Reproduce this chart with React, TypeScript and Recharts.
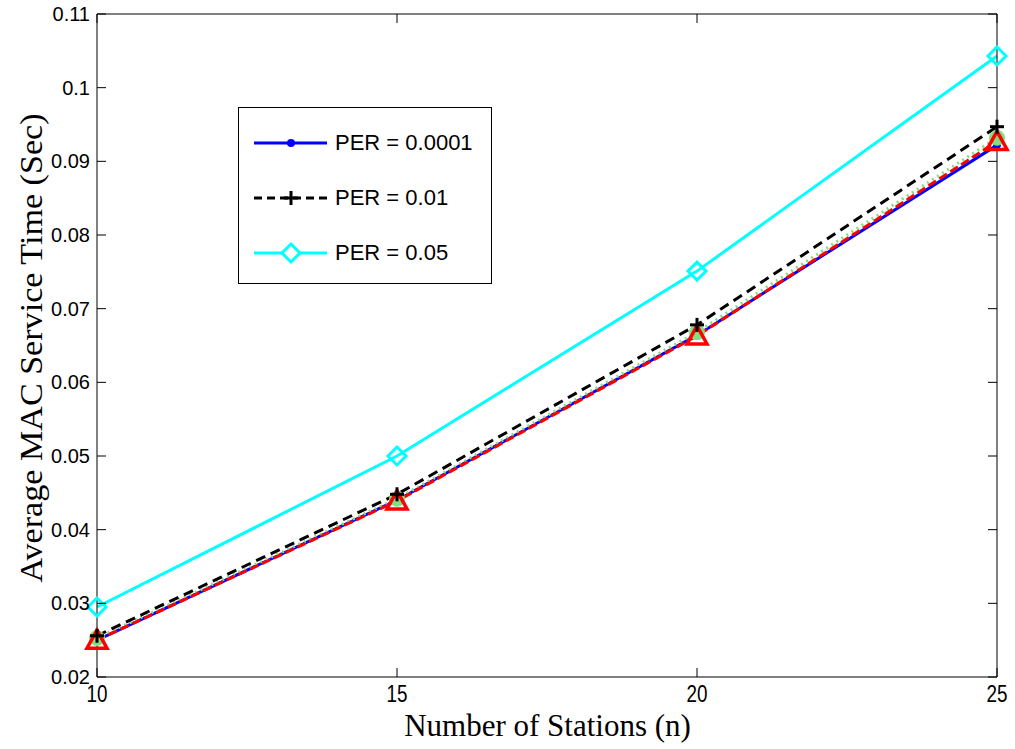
import { Line, LineChart, XAxis, YAxis } from "recharts";

const stations = [10, 15, 20, 25];
const per0001 = [0.025, 0.044, 0.0664, 0.0922];
const per001 = [0.0256, 0.0448, 0.0678, 0.0947];
const per005 = [0.0295, 0.05, 0.0751, 0.1043];
const perGreen = [0.0253, 0.0442, 0.0668, 0.0932];
const perRed = [0.025, 0.0439, 0.0663, 0.0927];
const yTicks = [0.02, 0.03, 0.04, 0.05, 0.06, 0.07, 0.08, 0.09, 0.1, 0.11];
const xTicks = [10, 15, 20, 25];

const data = stations.map((n, i) => ({
  n,
  a: per0001[i],
  b: per001[i],
  c: per005[i],
  g: perGreen[i],
  r: perRed[i]
}));

const tickFont = "'Liberation Sans', Arial, sans-serif";
const titleFont = "'Liberation Serif', 'Times New Roman', serif";

const fmt = (v: number) => Number(v.toFixed(2)).toString();

function LeftTick(props: any) {
  const { x, y, payload } = props;
  return (
    <g>
      <line x1={x} x2={x + 9} y1={y} y2={y} stroke="#000" />
      <text x={x - 7} y={y + 7} textAnchor="end" fontFamily={tickFont} fontSize={20} fill="#000">
        {fmt(payload.value)}
      </text>
    </g>
  );
}

function RightTick(props: any) {
  const { x, y } = props;
  return <line x1={x} x2={x - 9} y1={y} y2={y} stroke="#000" />;
}

function BottomTick(props: any) {
  const { x, y, payload } = props;
  return (
    <g>
      <line x1={x} x2={x} y1={y} y2={y - 9} stroke="#000" />
      <text
        x={x}
        y={y + 25}
        textAnchor="middle"
        fontFamily={tickFont}
        fontSize={23}
        fill="#000"
        transform={`translate(${x} 0) scale(0.82 1) translate(${-x} 0)`}
      >
        {payload.value}
      </text>
    </g>
  );
}

function TopTick(props: any) {
  const { x, y } = props;
  return <line x1={x} x2={x} y1={y} y2={y + 9} stroke="#000" />;
}

const dotBlue = (p: any) => <circle key={p.index} cx={p.cx} cy={p.cy} r={3.5} fill="#0000ff" stroke="#0000ff" />;
const dotPlus = (p: any) => (
  <g key={p.index} stroke="#000" strokeWidth={3}>
    <line x1={p.cx - 7} x2={p.cx + 7} y1={p.cy} y2={p.cy} />
    <line x1={p.cx} x2={p.cx} y1={p.cy - 7} y2={p.cy + 7} />
  </g>
);
const dotDiamond = (p: any) => (
  <polygon
    key={p.index}
    points={`${p.cx},${p.cy - 9} ${p.cx + 9},${p.cy} ${p.cx},${p.cy + 9} ${p.cx - 9},${p.cy}`}
    fill="none"
    stroke="#00ffff"
    strokeWidth={3}
  />
);
const dotGreen = (p: any) => <circle key={p.index} cx={p.cx} cy={p.cy} r={7.5} fill="#80e080" stroke="#80e080" />;
const dotTriangle = (p: any) => (
  <polygon
    key={p.index}
    points={`${p.cx},${p.cy - 10} ${p.cx + 10},${p.cy + 8} ${p.cx - 10},${p.cy + 8}`}
    fill="none"
    stroke="#ff0000"
    strokeWidth={3.5}
  />
);

const legendItems = [
  { label: "PER = 0.0001", color: "#0000ff", dash: undefined, marker: "dot" },
  { label: "PER = 0.01", color: "#000000", dash: "8 5", marker: "plus" },
  { label: "PER = 0.05", color: "#00ffff", dash: undefined, marker: "diamond" }
];

function LegendBox() {
  return (
    <div
      style={{
        position: "absolute",
        left: 238,
        top: 107,
        width: 254,
        height: 177,
        border: "1px solid #000",
        background: "#fff",
        boxSizing: "border-box",
        paddingTop: 7
      }}
    >
      {legendItems.map((item) => (
        <div key={item.label} style={{ display: "flex", alignItems: "center", height: 55 }}>
          <svg width={96} height={24}>
            <line x1={15} x2={88} y1={12} y2={12} stroke={item.color} strokeWidth={3} strokeDasharray={item.dash} />
            {item.marker === "dot" && <circle cx={52} cy={12} r={4} fill={item.color} />}
            {item.marker === "plus" && (
              <g stroke="#000" strokeWidth={3}>
                <line x1={45} x2={59} y1={12} y2={12} />
                <line x1={52} x2={52} y1={5} y2={19} />
              </g>
            )}
            {item.marker === "diamond" && (
              <polygon points="52,3 61,12 52,21 43,12" fill="#fff" stroke={item.color} strokeWidth={3} />
            )}
          </svg>
          <span style={{ fontFamily: tickFont, fontSize: 22, color: "#000" }}>{item.label}</span>
        </div>
      ))}
    </div>
  );
}

export default function App() {
  return (
    <div style={{ position: "absolute", left: 0, top: 0, width: 1015, height: 749, background: "#fff" }}>
      <LineChart width={1015} height={749} data={data} margin={{ top: 13, right: 17, bottom: 0, left: 0 }}>
        <XAxis
          dataKey="n"
          type="number"
          domain={[10, 25]}
          ticks={xTicks}
          height={72}
          tickSize={0}
          tickMargin={0}
          tick={<BottomTick />}
          axisLine={{ stroke: "#000" }}
          tickLine={false}
        />
        <XAxis
          xAxisId="top"
          orientation="top"
          dataKey="n"
          type="number"
          domain={[10, 25]}
          ticks={xTicks}
          height={1}
          tickSize={0}
          tickMargin={0}
          tick={<TopTick />}
          axisLine={{ stroke: "#000" }}
          tickLine={false}
        />
        <YAxis
          domain={[0.02, 0.11]}
          ticks={yTicks}
          width={97}
          tickSize={0}
          tickMargin={0}
          tick={<LeftTick />}
          axisLine={{ stroke: "#000" }}
          tickLine={false}
        />
        <YAxis
          yAxisId="right"
          orientation="right"
          domain={[0.02, 0.11]}
          ticks={yTicks}
          width={1}
          tickSize={0}
          tickMargin={0}
          tick={<RightTick />}
          axisLine={{ stroke: "#000" }}
          tickLine={false}
        />
        <Line xAxisId="top" yAxisId="right" dataKey="a" stroke="none" dot={false} isAnimationActive={false} />
        <Line dataKey="a" stroke="#0000ff" strokeWidth={3} dot={dotBlue} isAnimationActive={false} />
        <Line dataKey="g" stroke="#80e080" strokeWidth={3} strokeDasharray="2 4" dot={dotGreen} isAnimationActive={false} />
        <Line dataKey="r" stroke="#ff0000" strokeWidth={3} strokeDasharray="9 4" dot={dotTriangle} isAnimationActive={false} />
        <Line dataKey="b" stroke="#000000" strokeWidth={3} strokeDasharray="10 6" dot={dotPlus} isAnimationActive={false} />
        <Line dataKey="c" stroke="#00ffff" strokeWidth={3} dot={dotDiamond} isAnimationActive={false} />
      </LineChart>
      <LegendBox />
      <div
        style={{
          position: "absolute",
          left: 0,
          width: 1095,
          top: 708,
          textAlign: "center",
          fontFamily: titleFont,
          fontSize: 31,
          color: "#000"
        }}
      >
        Number of Stations (n)
      </div>
      <div
        style={{
          position: "absolute",
          left: 32,
          top: 348,
          transform: "translate(-50%, -50%) rotate(-90deg) scale(1.1, 1)",
          whiteSpace: "nowrap",
          fontFamily: titleFont,
          fontSize: 31,
          color: "#000"
        }}
      >
        Average MAC Service Time (Sec)
      </div>
    </div>
  );
}
